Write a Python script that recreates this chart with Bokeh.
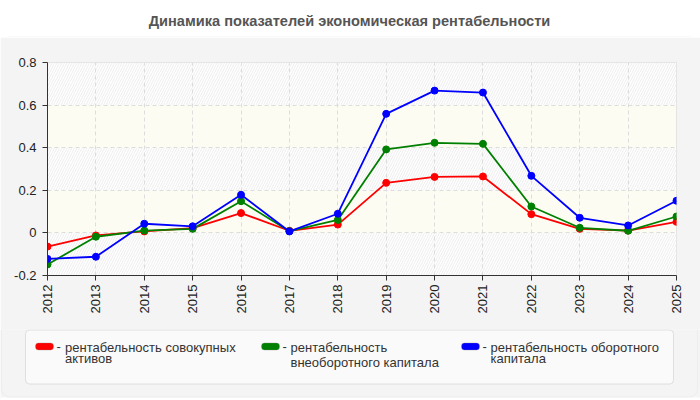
from bokeh.plotting import figure
from bokeh.models import Range1d, BoxAnnotation, Label, FixedTicker
from bokeh.layouts import column
from bokeh.embed import file_html
from bokeh.resources import INLINE
import math

years = [2012, 2013, 2014, 2015, 2016, 2017, 2018, 2019, 2020, 2021, 2022, 2023, 2024, 2025]
total_assets = [-0.064, -0.012, 0.007, 0.022, 0.093, 0.010, 0.039, 0.235, 0.263, 0.265, 0.088, 0.019, 0.011, 0.052]
noncurrent = [-0.148, -0.018, 0.011, 0.019, 0.149, 0.008, 0.061, 0.392, 0.423, 0.418, 0.124, 0.024, 0.010, 0.077]
working = [-0.122, -0.112, 0.043, 0.031, 0.179, 0.007, 0.090, 0.559, 0.668, 0.659, 0.268, 0.071, 0.035, 0.151]
legend_lines = [["рентабельность совокупных", "активов"],
                ["рентабельность", "внеоборотного капитала"],
                ["рентабельность оборотного", "капитала"]]
colors = ["#ff0000", "#008000", "#0000ff"]
y_ticks = [-0.2, 0, 0.2, 0.4, 0.6, 0.8]
y_tick_labels = ["-0.2", "0", "0.2", "0.4", "0.6", "0.8"]
title_text = "Динамика показателей экономическая рентабельности"

FONT = "'Liberation Sans', Arial, sans-serif"
PANEL = "#f4f4f4"


def no_align(f):
    try:
        f.frame_align = False
    except Exception:
        pass


def blank_fig(h, bg):
    f = figure(width=700, height=h, output_backend="svg", toolbar_location=None,
               x_range=Range1d(0, 1), y_range=Range1d(0, 1),
               x_axis_type=None, y_axis_type=None, min_border=0)
    f.outline_line_color = None
    f.background_fill_color = bg
    f.border_fill_color = bg
    no_align(f)
    return f


def cbox(f, l, r, t, b, **kw):
    f.add_layout(BoxAnnotation(left=l, right=r, top=t, bottom=b,
                               left_units="canvas", right_units="canvas",
                               top_units="canvas", bottom_units="canvas", **kw))


# ---- title strip (page y 0..37)
ft = blank_fig(37, "white")
cbox(ft, 1, 697, 36.5, 60, fill_color=PANEL, fill_alpha=1, line_color="#dddddd",
     line_width=1, border_radius=8)
ft.add_layout(Label(x=349, y=20, x_units="canvas", y_units="canvas", text=title_text,
                    text_align="center", text_baseline="middle", text_font=FONT,
                    text_font_size="14.6px", text_font_style="bold", text_color="#555555"))

# ---- chart (page y 37..329)
p = figure(width=700, height=292, output_backend="svg", toolbar_location=None,
           x_range=Range1d(2012, 2025), y_range=Range1d(-0.2, 0.8),
           min_border_left=47, min_border_right=24, min_border_top=25, min_border_bottom=54)
p.border_fill_color = PANEL
p.background_fill_color = "white"
p.outline_line_color = "#dddddd"
no_align(p)

for i in range(len(y_ticks) - 1):
    lo, hi = y_ticks[i], y_ticks[i + 1]
    if i % 2 == 0:
        b = BoxAnnotation(bottom=lo, top=hi, fill_color="white", fill_alpha=1,
                          line_color=None, hatch_pattern="/", hatch_color="#e8e8e8",
                          hatch_scale=5, hatch_weight=0.8, level="image")
    else:
        b = BoxAnnotation(bottom=lo, top=hi, fill_color="#fcfcf3", fill_alpha=1,
                          line_color=None, level="image")
    p.add_layout(b)

for g in (p.xgrid, p.ygrid):
    g.grid_line_color = "#dddddd"
    g.grid_line_dash = "4 3"
    g.grid_line_width = 1
p.xgrid.ticker = FixedTicker(ticks=years)
p.ygrid.ticker = FixedTicker(ticks=y_ticks)

p.xaxis.ticker = FixedTicker(ticks=years)
p.yaxis.ticker = FixedTicker(ticks=y_ticks)
p.yaxis.major_label_overrides = {t: l for t, l in zip(y_ticks, y_tick_labels)}
p.xaxis.major_label_orientation = math.pi / 2
for ax in (p.xaxis, p.yaxis):
    ax.axis_line_color = "#333333"
    ax.major_tick_line_color = "#333333"
    ax.major_tick_out = 5
    ax.major_tick_in = 0
    ax.minor_tick_line_color = None
    ax.major_label_text_font = FONT
    ax.major_label_text_font_size = "13px"
    ax.major_label_text_color = "#222222"
p.yaxis.major_label_standoff = 6
p.xaxis.major_label_standoff = 4

for vals, c in zip([total_assets, noncurrent, working], colors):
    p.line(years, vals, line_color=c, line_width=1.8)
    p.scatter(years, vals, size=7, fill_color=c, line_color=c)

# ---- legend strip (page y 329..400)
fl = blank_fig(71, PANEL)
cbox(fl, -10, 710, 68, 90, fill_color="white", fill_alpha=1, line_color=None)
cbox(fl, 1, 697, -20, 67.5, fill_color=PANEL, fill_alpha=1, line_color="#dddddd",
     line_width=1, border_radius=8)
cbox(fl, 25, 673, 0.5, 54.5, fill_color="#fafafa", fill_alpha=1, line_color="#aaaaaa",
     line_width=1, border_radius=4)
Y0 = 329
sw_x = [35, 261, 461]
tx_x = [64.5, 290, 490]
line2_y = [358.3, 361.7, 358.3]
for i in range(3):
    cbox(fl, sw_x[i], sw_x[i] + 18, 342.5 - Y0, 349.5 - Y0, fill_color=colors[i], fill_alpha=1,
         line_color="#888888", line_width=1, border_radius=3)
    fl.add_layout(Label(x=sw_x[i] + 21, y=346 - Y0, x_units="canvas", y_units="canvas", text="-",
                        text_align="left", text_baseline="middle", text_font=FONT,
                        text_font_size="13px", text_color="#333333"))
    fl.add_layout(Label(x=tx_x[i], y=346.7 - Y0, x_units="canvas", y_units="canvas",
                        text=legend_lines[i][0], text_align="left", text_baseline="middle",
                        text_font=FONT, text_font_size="13px", text_color="#333333"))
    fl.add_layout(Label(x=tx_x[i], y=line2_y[i] - Y0, x_units="canvas", y_units="canvas",
                        text=legend_lines[i][1], text_align="left", text_baseline="middle",
                        text_font=FONT, text_font_size="13px", text_color="#333333"))

root = column(ft, p, fl, spacing=0)
open("out.html", "w").write(file_html(root, INLINE))
